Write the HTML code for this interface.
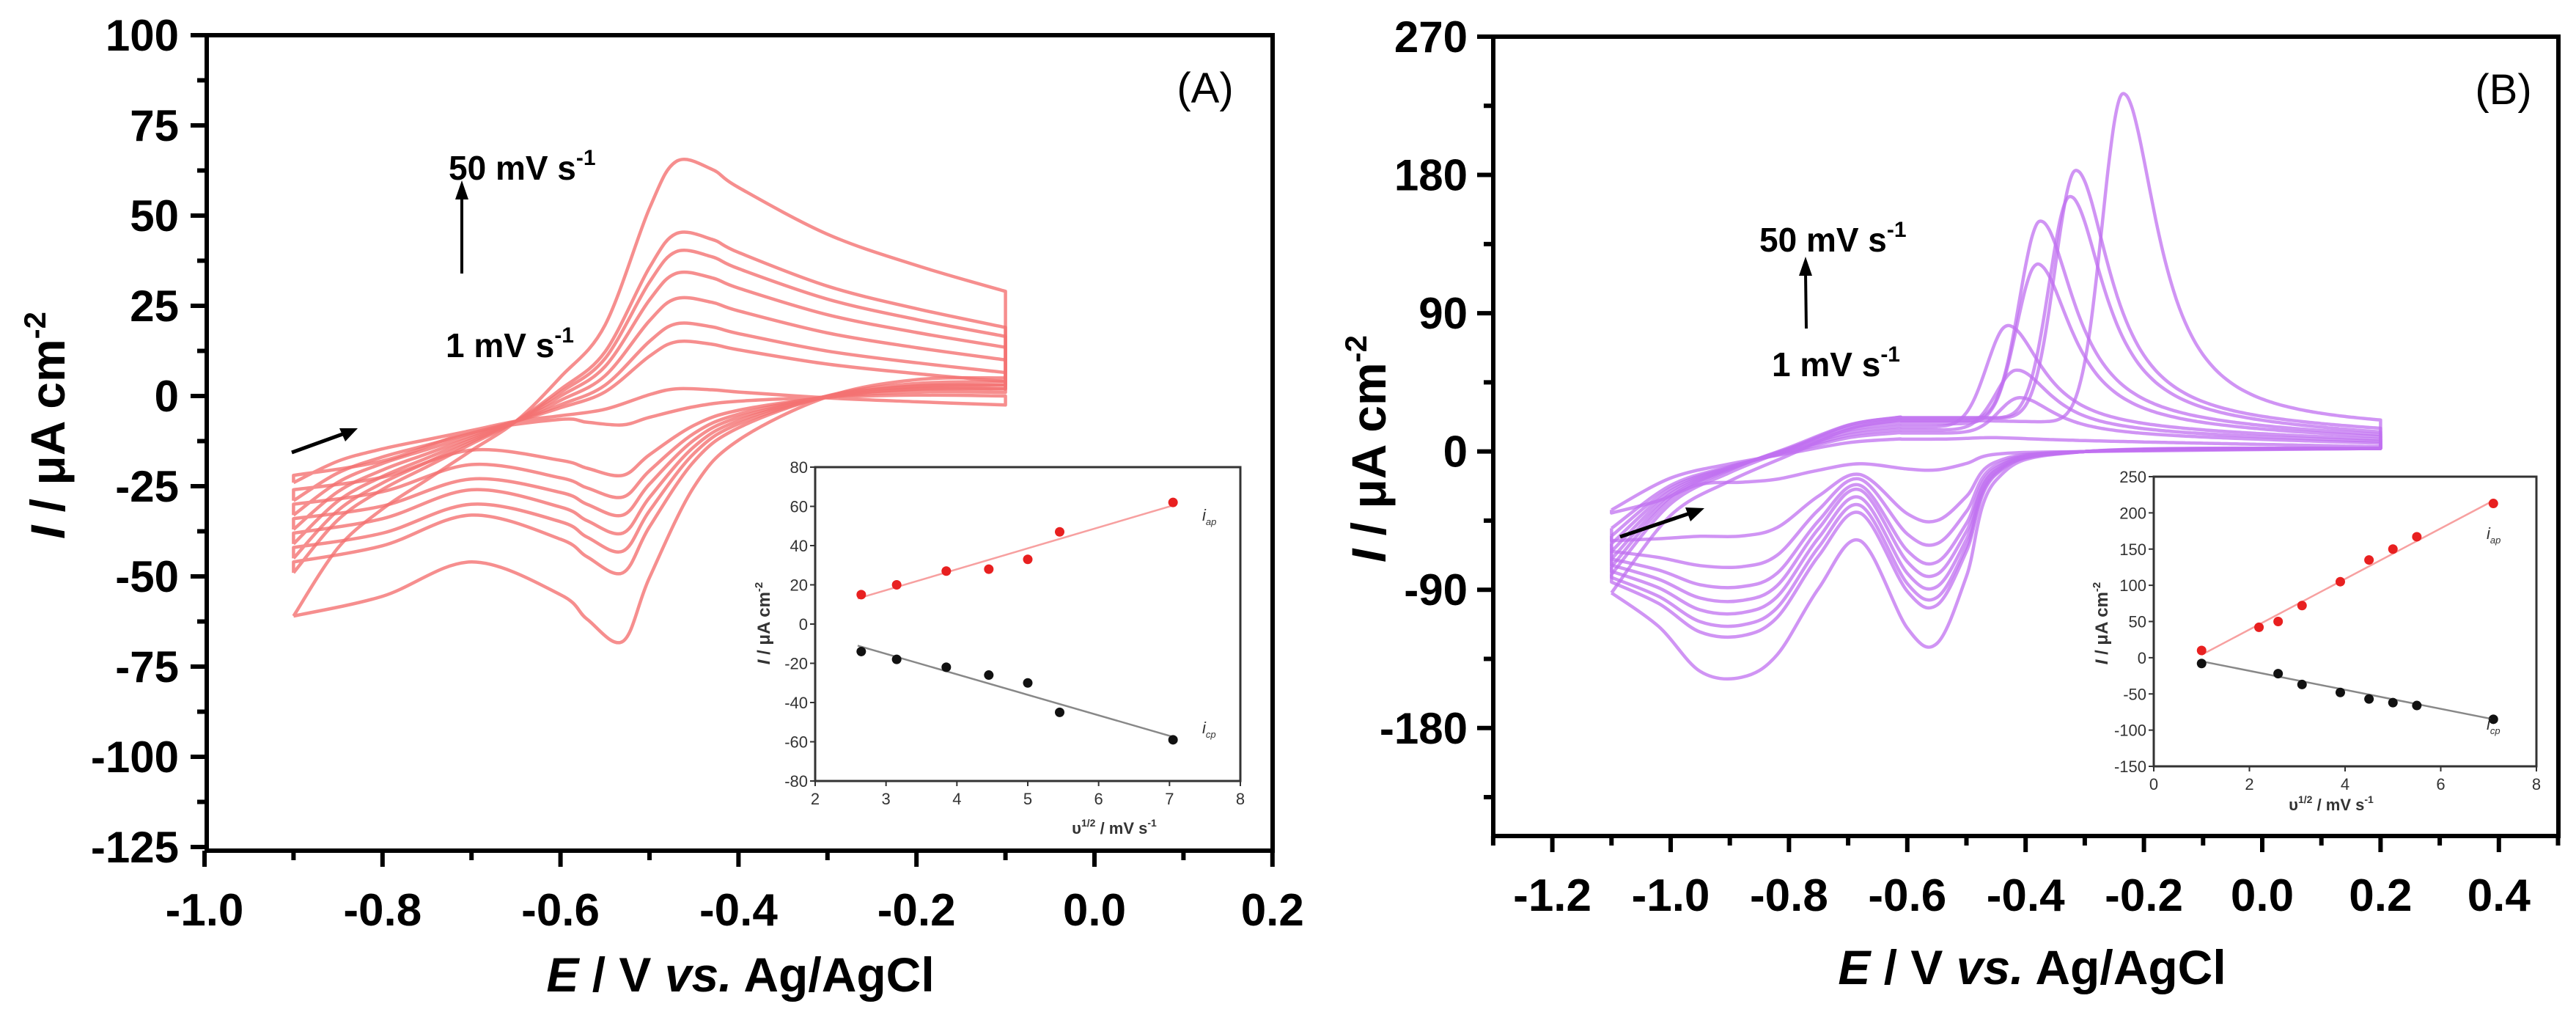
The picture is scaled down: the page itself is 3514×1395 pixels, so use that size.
<!DOCTYPE html>
<html><head><meta charset="utf-8"><style>
html,body{margin:0;padding:0;background:#fff;}
svg{display:block;}
text{font-family:"Liberation Sans",Arial,sans-serif;}
</style></head><body>
<svg id="fig" width="3514" height="1395" viewBox="0 0 3514 1395" xmlns="http://www.w3.org/2000/svg"></svg>
<script>
// ---------- Panel A data (largest -> smallest scan rate) ----------
const aIpa = [65, 45, 40, 34, 27, 20, 15, 2];
const aIpc = [-68, -49, -43, -38, -33, -28, -22, -8];
const aStart = [-61, -49, -45, -41, -37, -33, -29, -24];
const aRevMid = [-46, -33, -30, -26, -23, -19, -15, -10];
const aRevEnd = [-61, -46, -42, -38, -34, -30, -26, -22];
const aLowEnd = [5, 4, 3, 3, 2, 2, 1, 0];
// ---------- Panel B data ----------
const bIpa = [233, 183, 166, 150, 122, 82, 53, 35, 9];
const bEpa = [-0.235, -0.315, -0.325, -0.375, -0.38, -0.43, -0.415, -0.41, -0.46];
const bIpc1 = [-125, -100, -95, -88, -80, -72, -60, -45, -12];
const bIpc2 = [-147, -120, -113, -105, -97, -88, -75, -55, -20];
const bHump = [-58, -40, -35, -30, -25, -22, -18, -15, -8];
const bRevEnd = [-92, -85, -82, -78, -74, -70, -65, -58, -40];
const bStart = [-92, -80, -75, -70, -65, -60, -55, -50, -38];
const bPlateau = [20, 22, 22, 20, 18, 16, 14, 12, 8];
const bEndUp = [15, 12, 10, 9, 8, 7, 6, 5, 3];
// ---------- Insets ----------
const insAx = [2.65, 3.15, 3.85, 4.45, 5.0, 5.45, 7.05];
const insAipa = [15, 20, 27, 28, 33, 47, 62];
const insAicp = [-14, -18, -22, -26, -30, -45, -59];
const insBxa = [1, 2.2, 2.6, 3.1, 3.9, 4.5, 5.0, 5.5, 7.1];
const insBipa = [10, 42, 50, 72, 105, 135, 150, 167, 213];
const insBxc = [1, 2.6, 3.1, 3.9, 4.5, 5.0, 5.5, 7.1];
const insBicp = [-8, -22, -37, -48, -57, -62, -66, -85];
const aXTicks = [-1.0, -0.8, -0.6, -0.4, -0.2, 0.0, 0.2];
const aYTicks = [100, 75, 50, 25, 0, -25, -50, -75, -100, -125];
const bXTicks = [-1.2, -1.0, -0.8, -0.6, -0.4, -0.2, 0.0, 0.2, 0.4];
const bYTicks = [270, 180, 90, 0, -90, -180];

const NS = "http://www.w3.org/2000/svg";
const svg = document.getElementById('fig');
function el(tag, attrs, parent, txt) {
  const e = document.createElementNS(NS, tag);
  for (const k in attrs) e.setAttribute(k, attrs[k]);
  if (txt !== undefined) e.textContent = txt;
  (parent || svg).appendChild(e);
  return e;
}
// axis functions
const xA = v => 1493 + v * 1214;
const yA = i => 540 - i * 4.92;
const xB = v => 2279 + (v + 1) * 807;
const yB = i => 50 + (270 - i) * 2.095;
const xIA = v => 1112 + (v - 2) * (580 / 6);
const yIA = i => 637 + (80 - i) * (428 / 160);
const xIB = v => 2938 + v * (522 / 8);
const yIB = i => 650 + (250 - i) * (395 / 400);

function crPath(pts) {
  let d = 'M' + pts[0][0].toFixed(1) + ',' + pts[0][1].toFixed(1);
  for (let i = 0; i < pts.length - 1; i++) {
    const p0 = pts[Math.max(0, i - 1)], p1 = pts[i], p2 = pts[i + 1], p3 = pts[Math.min(pts.length - 1, i + 2)];
    const c1 = [p1[0] + (p2[0] - p0[0]) / 6, p1[1] + (p2[1] - p0[1]) / 6];
    const c2 = [p2[0] - (p3[0] - p1[0]) / 6, p2[1] - (p3[1] - p1[1]) / 6];
    d += 'C' + c1[0].toFixed(1) + ',' + c1[1].toFixed(1) + ' ' + c2[0].toFixed(1) + ',' + c2[1].toFixed(1) + ' ' + p2[0].toFixed(1) + ',' + p2[1].toFixed(1);
  }
  return d;
}

function frame(x0, y0, x1, y1, name) {
  const f = el('rect', {x: x0, y: y0, width: x1 - x0, height: y1 - y0, fill: 'none', stroke: '#000', 'stroke-width': 6});
  
  
}
function tickLabel(x, y, s, anchor, size, name) {
  const t = el('text', {x: x, y: y, 'text-anchor': anchor, 'font-size': size, 'font-weight': 'bold', fill: '#000'}, svg, s);
  
  
}

// ================= PANEL A =================
frame(282, 48, 1736, 1160, 'panel-a-frame');
for (let v = -1.0; v <= 0.2001; v += 0.1) {
  const major = Math.abs(Math.round(v * 10) % 2) === 0;
  el('line', {x1: xA(v), y1: 1160, x2: xA(v), y2: 1160 + (major ? 22 : 13), stroke: '#000', 'stroke-width': 6});
}
aXTicks.forEach(v => tickLabel(xA(v), 1262, v.toFixed(1), 'middle', 62, 'panel-a-x-tick'));
for (let i = -125; i <= 100; i += 12.5) {
  const major = i % 25 === 0;
  el('line', {x1: 282, y1: yA(i), x2: 282 - (major ? 22 : 13), y2: yA(i), stroke: '#000', 'stroke-width': 6});
}
aYTicks.forEach(i => tickLabel(244, yA(i) + 21, String(i), 'end', 60, 'panel-a-y-tick'));

const gA = el('g', {fill: 'none', stroke: '#f47272', 'stroke-width': 4.5, 'stroke-opacity': 0.8, 'stroke-linejoin': 'round'});


const fE1 = [-0.9, -0.85, -0.8, -0.75, -0.7, -0.65], fG = [0, 0.35, 0.55, 0.7, 0.85, 1];
const fE2 = [-0.6, -0.55, -0.5, -0.47, -0.43, -0.4, -0.3, -0.2, -0.1], fH = [0.17, 0.37, 0.82, 1, 0.97, 0.9, 0.72, 0.6, 0.5];
const rE = [-0.1, -0.2, -0.3, -0.4, -0.45, -0.5, -0.53, -0.57, -0.6], rK = [-0.03, -0.03, 0.04, 0.18, 0.37, 0.74, 1, 0.91, 0.81];
aIpa.forEach((ipa, k) => {
  const fwd = [];
  fE1.forEach((e, j) => fwd.push([xA(e), yA(aStart[k] + (-7 - aStart[k]) * fG[j])]));
  fE2.forEach((e, j) => fwd.push([xA(e), yA(-7 + (ipa + 7) * fH[j])]));
  const rev = [[xA(-0.1), yA(aLowEnd[k])]];
  rE.slice(1).forEach((e, j) => rev.push([xA(e), yA(aIpc[k] * rK[j + 1] + (j < 2 ? aLowEnd[k] * 0.5 : 0))]));
  rev.push([xA(-0.7), yA(aRevMid[k])]);
  rev.push([xA(-0.8), yA((aRevMid[k] + aRevEnd[k]) / 2 - 2)]);
  rev.push([xA(-0.9), yA(aRevEnd[k])]);
  const p = el('path', {d: crPath(fwd) + 'L' + rev[0][0] + ',' + rev[0][1].toFixed(1) + crPath(rev).replace(/^M[^C]*/, '') + 'L' + fwd[0][0] + ',' + fwd[0][1].toFixed(1)}, gA);
  
  
});

// panel A annotations
let t;
t = el('text', {x: 1644, y: 140, 'text-anchor': 'middle', 'font-size': 58}, svg, '(A)');
 
t = el('text', {x: 612, y: 245, 'font-size': 46, 'font-weight': 'bold'}, svg);
t.innerHTML = '50 mV s<tspan dy="-20" font-size="30">-1</tspan>';
 
t = el('text', {x: 608, y: 487, 'font-size': 46, 'font-weight': 'bold'}, svg);
t.innerHTML = '1 mV s<tspan dy="-20" font-size="30">-1</tspan>';
 
el('line', {x1: 630, y1: 373, x2: 630, y2: 268, stroke: '#000', 'stroke-width': 4});
el('polygon', {points: '630,246 621,272 639,272', fill: '#000'});
el('line', {x1: 398, y1: 617, x2: 470, y2: 591, stroke: '#000', 'stroke-width': 5});
el('polygon', {points: '488,584 463,584 471,602', fill: '#000'});
t = el('text', {x: 0, y: 0, 'font-size': 66, 'font-weight': 'bold', 'text-anchor': 'middle', transform: 'translate(88,580) rotate(-90)'}, svg);
t.innerHTML = '<tspan font-style="italic">I</tspan> / μA cm<tspan dy="-26" font-size="42">-2</tspan>';
 
t = el('text', {x: 1010, y: 1352, 'font-size': 66, 'font-weight': 'bold', 'text-anchor': 'middle'}, svg);
t.innerHTML = '<tspan font-style="italic">E</tspan> / V <tspan font-style="italic">vs.</tspan> Ag/AgCl';
 

// inset A
function inset(x0, y0, x1, y1, xt, yt, xf, yf, name) {
  const r = el('rect', {x: x0, y: y0, width: x1 - x0, height: y1 - y0, fill: '#fff', stroke: '#333', 'stroke-width': 3});
   
  xt.forEach(v => {
    el('line', {x1: xf(v), y1: y1, x2: xf(v), y2: y1 + 7, stroke: '#333', 'stroke-width': 2});
    const tt = el('text', {x: xf(v), y: y1 + 32, 'text-anchor': 'middle', 'font-size': 22, fill: '#333'}, svg, String(v));
     
  });
  yt.forEach(v => {
    el('line', {x1: x0, y1: yf(v), x2: x0 - 7, y2: yf(v), stroke: '#333', 'stroke-width': 2});
    const tt = el('text', {x: x0 - 10, y: yf(v) + 8, 'text-anchor': 'end', 'font-size': 22, fill: '#333'}, svg, String(v));
     
  });
}
function dots(xs, ys, xf, yf, color, name) {
  xs.forEach((x, i) => {
    const c = el('circle', {cx: xf(x), cy: yf(ys[i]), r: 6.5, fill: color});
     
  });
}
inset(1112, 637, 1692, 1065, [2, 3, 4, 5, 6, 7, 8], [80, 60, 40, 20, 0, -20, -40, -60, -80], xIA, yIA, 'inset-a');
el('line', {x1: xIA(2.6), y1: yIA(13), x2: xIA(7.1), y2: yIA(61), stroke: '#f7a0a0', 'stroke-width': 2.5});
el('line', {x1: xIA(2.6), y1: yIA(-11), x2: xIA(7.1), y2: yIA(-58), stroke: '#888', 'stroke-width': 2.5});
dots(insAx, insAipa, xIA, yIA, '#e82020', 'inset-a-ipa-point');
dots(insAx, insAicp, xIA, yIA, '#111', 'inset-a-icp-point');
t = el('text', {x: 1520, y: 1137, 'text-anchor': 'middle', 'font-size': 22, 'font-weight': 'bold', fill: '#333'}, svg);
t.innerHTML = 'υ<tspan dy="-10" font-size="14">1/2</tspan><tspan dy="10"> / mV s</tspan><tspan dy="-10" font-size="14">-1</tspan>';
 
t = el('text', {x: 0, y: 0, 'text-anchor': 'middle', 'font-size': 24, 'font-weight': 'bold', fill: '#333', transform: 'translate(1050,850) rotate(-90)'}, svg);
t.innerHTML = '<tspan font-style="italic">I</tspan> / μA cm<tspan dy="-10" font-size="15">-2</tspan>';
 
t = el('text', {x: 1640, y: 710, 'font-size': 22, 'font-style': 'italic', fill: '#333'}, svg);
t.innerHTML = 'i<tspan dy="6" font-size="13">ap</tspan>';
 
t = el('text', {x: 1640, y: 1000, 'font-size': 22, 'font-style': 'italic', fill: '#333'}, svg);
t.innerHTML = 'i<tspan dy="6" font-size="13">cp</tspan>';
 

// ================= PANEL B =================
frame(2037, 50, 3490, 1140, 'panel-b-frame');
for (let v = -1.3; v <= 0.5001; v += 0.1) {
  const r = Math.round(v * 10);
  const major = Math.abs(r % 2) === 0;
  el('line', {x1: xB(v), y1: 1140, x2: xB(v), y2: 1140 + (major ? 22 : 13), stroke: '#000', 'stroke-width': 6});
}
bXTicks.forEach(v => tickLabel(xB(v), 1242, v.toFixed(1), 'middle', 62, 'panel-b-x-tick'));
for (let i = -225; i <= 270; i += 45) {
  const major = i % 90 === 0;
  el('line', {x1: 2037, y1: yB(i), x2: 2037 - (major ? 22 : 13), y2: yB(i), stroke: '#000', 'stroke-width': 6});
}
bYTicks.forEach(i => tickLabel(2002, yB(i) + 21, String(i), 'end', 60, 'panel-b-y-tick'));

const gB = el('g', {fill: 'none', stroke: '#c070f0', 'stroke-width': 4.5, 'stroke-opacity': 0.75, 'stroke-linejoin': 'round'});


const bfE = [-1.1, -1.0, -0.9, -0.8, -0.7], bfF = [0, 0.45, 0.65, 0.8, 0.95];
bIpa.forEach((ipa, k) => {
  const fwd = [];
  bfE.forEach((e, j) => fwd.push([xB(e), yB(bStart[k] + (bPlateau[k] - bStart[k]) * bfF[j])]));
  for (let e = -0.62; e <= 0.2001; e += 0.01) {
    const tail = e < -0.47 ? bPlateau[k] : bPlateau[k] + (bEndUp[k] - bPlateau[k]) * (e + 0.47) / 0.67;
    const d = e - bEpa[k];
    const s = d < 0 ? Math.exp(-Math.pow(d / 0.05, 2)) : 1 / (1 + Math.pow(d / 0.07, 2));
    fwd.push([xB(e), yB(tail + (ipa - tail) * s)]);
  }
  const c1 = bIpc1[k], c2 = bIpc2[k], h = bHump[k], re = bRevEnd[k];
  const rev = [[0.2, 2], [-0.3, 0], [-0.45, c1 * 0.15], [-0.5, c1 * 0.65], [-0.55, c1], [-0.6, c1 * 0.85 + h * 0.15],
    [-0.68, h], [-0.75, h + (c2 - h) * 0.35], [-0.82, c2 * 0.9], [-0.88, c2], [-0.95, c2 * 0.93 + re * 0.07], [-1.02, (c2 + re) / 2 + (re - c2) * 0.1], [-1.1, re]]
    .map(p => [xB(p[0]), yB(p[1])]);
  const p = el('path', {d: crPath(fwd) + 'L' + rev[0][0] + ',' + rev[0][1].toFixed(1) + crPath(rev).replace(/^M[^C]*/, '') + 'L' + fwd[0][0] + ',' + fwd[0][1].toFixed(1)}, gB);
  
  
});

t = el('text', {x: 3415, y: 142, 'text-anchor': 'middle', 'font-size': 58}, svg, '(B)');
 
t = el('text', {x: 2400, y: 343, 'font-size': 46, 'font-weight': 'bold'}, svg);
t.innerHTML = '50 mV s<tspan dy="-20" font-size="30">-1</tspan>';
 
t = el('text', {x: 2417, y: 513, 'font-size': 46, 'font-weight': 'bold'}, svg);
t.innerHTML = '1 mV s<tspan dy="-20" font-size="30">-1</tspan>';
 
el('line', {x1: 2464, y1: 448, x2: 2463, y2: 372, stroke: '#000', 'stroke-width': 4});
el('polygon', {points: '2463,350 2454,376 2472,376', fill: '#000'});
el('line', {x1: 2210, y1: 732, x2: 2305, y2: 700, stroke: '#000', 'stroke-width': 5});
el('polygon', {points: '2325,693 2299,692 2306,711', fill: '#000'});
t = el('text', {x: 0, y: 0, 'font-size': 66, 'font-weight': 'bold', 'text-anchor': 'middle', transform: 'translate(1890,612) rotate(-90)'}, svg);
t.innerHTML = '<tspan font-style="italic">I</tspan> / μA cm<tspan dy="-26" font-size="42">-2</tspan>';
 
t = el('text', {x: 2772, y: 1342, 'font-size': 66, 'font-weight': 'bold', 'text-anchor': 'middle'}, svg);
t.innerHTML = '<tspan font-style="italic">E</tspan> / V <tspan font-style="italic">vs.</tspan> Ag/AgCl';
 

inset(2938, 650, 3460, 1045, [0, 2, 4, 6, 8], [250, 200, 150, 100, 50, 0, -50, -100, -150], xIB, yIB, 'inset-b');
el('line', {x1: xIB(1), y1: yIB(4), x2: xIB(7.1), y2: yIB(217), stroke: '#f7a0a0', 'stroke-width': 2.5});
el('line', {x1: xIB(1), y1: yIB(-5), x2: xIB(7.1), y2: yIB(-85), stroke: '#888', 'stroke-width': 2.5});
dots(insBxa, insBipa, xIB, yIB, '#e82020', 'inset-b-ipa-point');
dots(insBxc, insBicp, xIB, yIB, '#111', 'inset-b-icp-point');
t = el('text', {x: 3180, y: 1105, 'text-anchor': 'middle', 'font-size': 22, 'font-weight': 'bold', fill: '#333'}, svg);
t.innerHTML = 'υ<tspan dy="-10" font-size="14">1/2</tspan><tspan dy="10"> / mV s</tspan><tspan dy="-10" font-size="14">-1</tspan>';
 
t = el('text', {x: 0, y: 0, 'text-anchor': 'middle', 'font-size': 24, 'font-weight': 'bold', fill: '#333', transform: 'translate(2875,850) rotate(-90)'}, svg);
t.innerHTML = '<tspan font-style="italic">I</tspan> / μA cm<tspan dy="-10" font-size="15">-2</tspan>';
 
t = el('text', {x: 3392, y: 735, 'font-size': 22, 'font-style': 'italic', fill: '#333'}, svg);
t.innerHTML = 'i<tspan dy="6" font-size="13">ap</tspan>';
 
t = el('text', {x: 3392, y: 995, 'font-size': 22, 'font-style': 'italic', fill: '#333'}, svg);
t.innerHTML = 'i<tspan dy="6" font-size="13">cp</tspan>';
 
</script>
</body></html>
